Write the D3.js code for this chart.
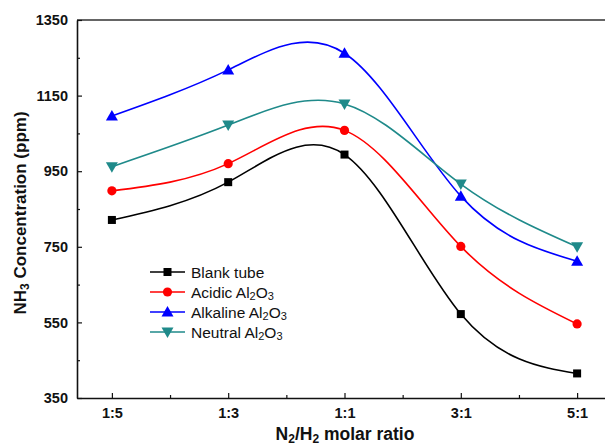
<!DOCTYPE html>
<html>
<head>
<meta charset="utf-8">
<script src="https://cdn.jsdelivr.net/npm/d3@7"></script>
<style>
  html, body { margin: 0; padding: 0; background: #fff; overflow: hidden; }
  svg { display: block; font-family: Arial, "Liberation Sans", sans-serif; }
</style>
</head>
<body>
<svg id="chart" width="605" height="448"></svg>
<script>
// N2/H2 molar ratios on the x axis
const ratios = ["1:5", "1:3", "1:1", "3:1", "5:1"];

// NH3 concentration (ppm) for each tube packing
const blankTube = [821, 921, 994, 572, 415];
const acidicAl2O3 = [898, 970, 1058, 751, 546];
const alkalineAl2O3 = [1096, 1218, 1262, 884, 712];
const neutralAl2O3 = [962, 1072, 1128, 916, 750];

const yTicks = [350, 550, 750, 950, 1150, 1350];
const yMinorTicks = [450, 650, 850, 1050, 1250];

const series = [
  { name: "Blank tube", sub: false, values: blankTube, color: "#000000", symbol: "square" },
  { name: "Acidic Al", sub: true, values: acidicAl2O3, color: "#ff0000", symbol: "circle" },
  { name: "Alkaline Al", sub: true, values: alkalineAl2O3, color: "#0000ff", symbol: "up" },
  { name: "Neutral Al", sub: true, values: neutralAl2O3, color: "#1f8a8a", symbol: "down" }
];

const svg = d3.select("#chart");
const plotLeft = 77, plotTop = 20, plotBottom = 398, plotRight = 612;

const x = d3.scaleLinear().domain([-0.3, 4.3]).range([plotLeft, plotRight]);
const y = d3.scaleLinear().domain([350, 1350]).range([plotBottom, plotTop]);

// frame (top and right edges)
svg.append("path")
  .attr("d", `M${plotLeft},${plotTop}H${plotRight}V${plotBottom}`)
  .attr("fill", "none").attr("stroke", "#333").attr("stroke-width", 1.6);

// x axis with inward ticks
svg.append("g").attr("transform", `translate(0,${plotBottom})`)
  .call(d3.axisBottom(x).tickValues(d3.range(ratios.length)).tickFormat(i => ratios[i])
    .tickSizeInner(-5).tickSizeOuter(0).tickPadding(10));
svg.append("g").attr("transform", `translate(0,${plotBottom})`)
  .call(d3.axisBottom(x).tickValues(d3.range(0.5, 4, 1)).tickFormat("")
    .tickSizeInner(-3).tickSizeOuter(0))
  .call(g => g.select(".domain").remove());

// y axis with inward ticks
svg.append("g").attr("transform", `translate(${plotLeft},0)`)
  .call(d3.axisLeft(y).tickValues(yTicks).tickFormat(d3.format("d"))
    .tickSizeInner(-5).tickSizeOuter(0).tickPadding(9));
svg.append("g").attr("transform", `translate(${plotLeft},0)`)
  .call(d3.axisLeft(y).tickValues(yMinorTicks).tickFormat("")
    .tickSizeInner(-3).tickSizeOuter(0))
  .call(g => g.select(".domain").remove());

svg.selectAll(".domain").attr("stroke", "#111").attr("stroke-width", 1.6);
svg.selectAll(".tick line").attr("stroke", "#111").attr("stroke-width", 1.2);
svg.selectAll(".tick text")
  .attr("font-family", "Arial, 'Liberation Sans', sans-serif")
  .attr("font-weight", "bold").attr("font-size", 14.5).attr("fill", "#111");

// axis titles
const xt = svg.append("text").attr("x", 345).attr("y", 440)
  .attr("text-anchor", "middle").attr("font-weight", "bold").attr("font-size", 17.5).attr("fill", "#111");
xt.append("tspan").text("N");
xt.append("tspan").text("2").attr("font-size", 12).attr("dy", 3);
xt.append("tspan").text("/H").attr("dy", -3);
xt.append("tspan").text("2").attr("font-size", 12).attr("dy", 3);
xt.append("tspan").text(" molar ratio").attr("dy", -3);

const yt = svg.append("text")
  .attr("transform", "translate(26,213) rotate(-90)")
  .attr("text-anchor", "middle").attr("font-weight", "bold").attr("font-size", 17).attr("fill", "#111");
yt.append("tspan").text("NH");
yt.append("tspan").text("3").attr("font-size", 12).attr("dy", 3);
yt.append("tspan").text(" Concentration (ppm)").attr("dy", -3);

// marker symbols
function marker(g, s, cx, cy) {
  if (s.symbol === "square") {
    g.append("rect").attr("x", cx - 4).attr("y", cy - 4).attr("width", 8).attr("height", 8).attr("fill", s.color);
  } else if (s.symbol === "circle") {
    g.append("circle").attr("cx", cx).attr("cy", cy).attr("r", 4.6).attr("fill", s.color);
  } else if (s.symbol === "up") {
    g.append("path").attr("d", `M${cx},${cy - 6}L${cx + 6},${cy + 4.5}L${cx - 6},${cy + 4.5}Z`).attr("fill", s.color);
  } else {
    g.append("path").attr("d", `M${cx},${cy + 6}L${cx + 6},${cy - 4.5}L${cx - 6},${cy - 4.5}Z`).attr("fill", s.color);
  }
}

const line = d3.line().x((d, i) => x(i)).y(d => y(d)).curve(d3.curveNatural);

series.forEach(s => {
  const g = svg.append("g");
  g.append("path").datum(s.values).attr("d", line)
    .attr("fill", "none").attr("stroke", s.color).attr("stroke-width", 1.6);
  s.values.forEach((v, i) => marker(g, s, x(i), y(v)));
});

// legend
const legend = svg.append("g");
series.forEach((s, i) => {
  const ly = 272 + i * 20;
  legend.append("line").attr("x1", 150).attr("x2", 185).attr("y1", ly).attr("y2", ly)
    .attr("stroke", s.color).attr("stroke-width", 1.6);
  marker(legend, s, 167.5, ly);
  const t = legend.append("text").attr("x", 191).attr("y", ly + 5.5)
    .attr("font-size", 15.5).attr("fill", "#111");
  t.append("tspan").text(s.name);
  if (s.sub) {
    t.append("tspan").text("2").attr("font-size", 11).attr("dy", 2);
    t.append("tspan").text("O").attr("dy", -2);
    t.append("tspan").text("3").attr("font-size", 11).attr("dy", 2);
  }
});
</script>
</body>
</html>
